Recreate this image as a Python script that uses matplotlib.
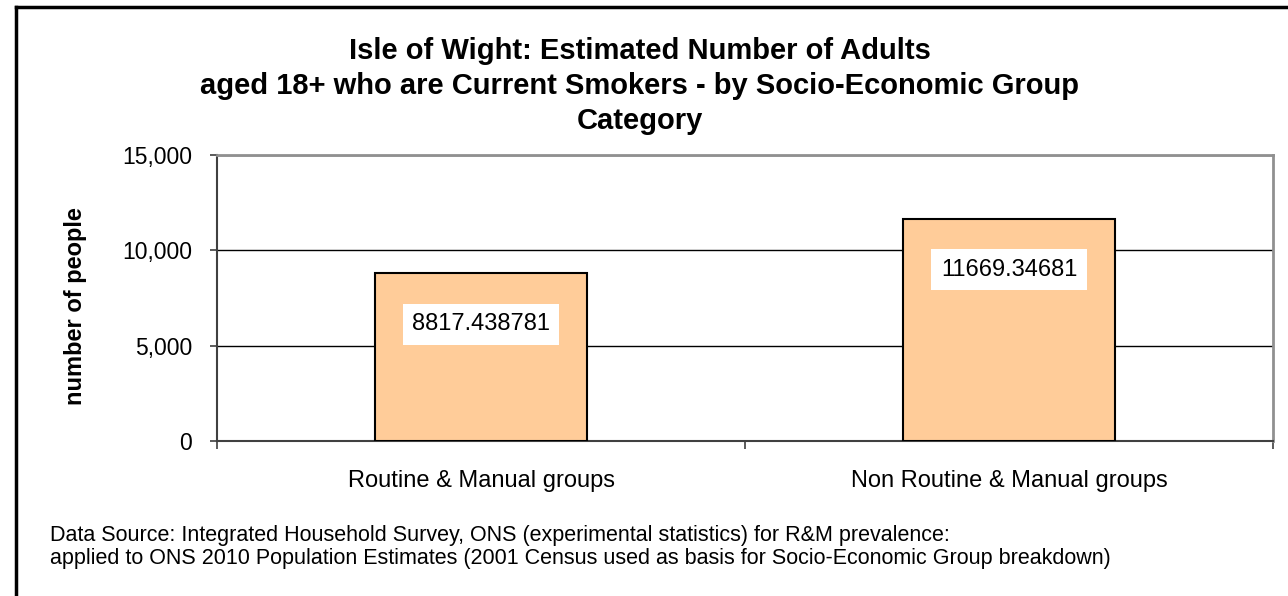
import numpy as np
import matplotlib.pyplot as plt
from matplotlib.lines import Line2D
from matplotlib.ticker import FuncFormatter, FixedLocator

plt.rcParams['font.family'] = ['Liberation Sans', 'DejaVu Sans']

categories = ["Routine & Manual groups", "Non Routine & Manual groups"]
values = [8817.438781, 11669.34681]
value_labels = ["8817.438781", "11669.34681"]
yticks = [0, 5000, 10000, 15000]

W, H = 1288, 596
fig = plt.figure(figsize=(W / 100, H / 100), dpi=100)
ax = fig.add_axes([217 / W, 1 - 441 / H, (1273 - 217) / W, (441 - 155) / H])

x = np.arange(len(categories))
ax.bar(x, values, width=0.4, color="#FFCC99", edgecolor="black", linewidth=1.5, zorder=3)

for xi, v, lab in zip(x, values, value_labels):
    ax.annotate(lab, (xi, v), xytext=(0, -37), textcoords="offset points",
                ha="center", va="center", fontsize=17, zorder=4,
                bbox=dict(boxstyle="square,pad=0.4", fc="white", ec="none"))

ax.set_xlim(-0.5, len(categories) - 0.5)
ax.set_ylim(0, 15000)
ax.yaxis.set_major_locator(FixedLocator(yticks))
ax.yaxis.set_major_formatter(FuncFormatter(lambda v, p: f"{int(v):,}"))
ax.tick_params(axis="y", labelsize=16.5, length=5, width=1.2, color="#404040", pad=13)
ax.grid(axis="y", color="black", linewidth=1, zorder=1)

ax.set_xticks(x)
ax.set_xticklabels(categories)
ax.xaxis.set_minor_locator(FixedLocator([-0.5, 0.5, 1.5]))
ax.tick_params(axis="x", which="major", length=0, labelsize=17, pad=21)
ax.tick_params(axis="x", which="minor", length=6, width=1.2, color="#404040")

for s in ["top", "right"]:
    ax.spines[s].set_color("#909090")
    ax.spines[s].set_linewidth(2)
for s in ["left", "bottom"]:
    ax.spines[s].set_color("#404040")
    ax.spines[s].set_linewidth(1.5)

ax.set_ylabel("number of people", fontsize=17, fontweight="bold")
ax.yaxis.set_label_coords((87 - 217) / 1056, (441 - 306) / 286)

fig.text(640 / W, 1 - 86 / H,
         "Isle of Wight: Estimated Number of Adults\n"
         "aged 18+ who are Current Smokers - by Socio-Economic Group\n"
         "Category",
         ha="center", va="center", fontsize=21, fontweight="bold", linespacing=1.3)

fig.text(50 / W, 1 - 547 / H,
         "Data Source: Integrated Household Survey, ONS (experimental statistics) for R&M prevalence:\n"
         "applied to ONS 2010 Population Estimates (2001 Census used as basis for Socio-Economic Group breakdown)",
         ha="left", va="center", fontsize=15.5, linespacing=1.1)

# outer chart frame (left and top edges visible)
fig.add_artist(Line2D([16 / W, 16 / W], [0, 1 - 7 / H], transform=fig.transFigure, color="black", lw=2.5))
fig.add_artist(Line2D([16 / W, 1], [1 - 7 / H, 1 - 7 / H], transform=fig.transFigure, color="black", lw=2.5))

fig.savefig("out.png", dpi=100)
